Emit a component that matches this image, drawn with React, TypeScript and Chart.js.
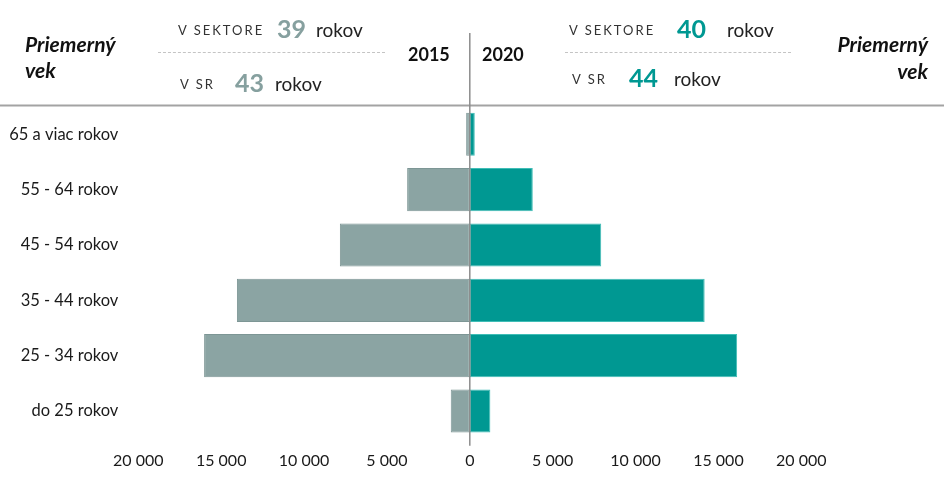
import React, { useEffect, useRef } from "react";
import { Chart, registerables } from "chart.js";

Chart.register(...registerables);

const categories = [
  "65 a viac rokov",
  "55 - 64 rokov",
  "45 - 54 rokov",
  "35 - 44 rokov",
  "25 - 34 rokov",
  "do 25 rokov",
];
const values2015 = [220, 3780, 7840, 14050, 16030, 1150];
const values2020 = [300, 3800, 7930, 14170, 16130, 1240];
const years = ["2015", "2020"];
const avgSector = [39, 40];
const avgSR = [43, 44];

const GREY = "#8ba4a3";
const TEAL = "#009892";
const FONT = "Lato, 'Open Sans', sans-serif";

const fmt = (v: number) => {
  const s = Math.abs(Math.round(v)).toString();
  return s.replace(/\B(?=(\d{3})+(?!\d))/g, " ");
};

const linesPlugin = {
  id: "decor",
  afterDatasetsDraw(chart: any) {
    const { ctx, scales } = chart;
    const x0 = scales.x.getPixelForValue(0);
    ctx.save();
    ctx.strokeStyle = "#a3a3a3";
    ctx.lineWidth = 2;
    ctx.beginPath();
    ctx.moveTo(0, 105.5);
    ctx.lineTo(chart.width, 105.5);
    ctx.stroke();
    ctx.strokeStyle = "#8c8c8c";
    ctx.lineWidth = 1.5;
    ctx.beginPath();
    ctx.moveTo(x0, 33);
    ctx.lineTo(x0, chart.chartArea.bottom + 7);
    ctx.stroke();
    ctx.restore();
  },
};

const abs = (s: any) => ({ position: "absolute" as const, whiteSpace: "nowrap" as const, ...s });

export default function App() {
  const ref = useRef<HTMLCanvasElement | null>(null);

  useEffect(() => {
    document.body.style.margin = "0";
    if (!ref.current) return;
    const chart = new Chart(ref.current, {
      type: "bar",
      data: {
        labels: categories,
        datasets: [
          {
            label: years[0],
            data: values2015.map((v) => -v),
            backgroundColor: GREY,
            borderColor: "#7d9695",
            borderWidth: 1,
            borderSkipped: false,
            barPercentage: 0.78,
            categoryPercentage: 1,
          },
          {
            label: years[1],
            data: values2020,
            backgroundColor: TEAL,
            borderColor: "#3fbdb6",
            borderWidth: 1,
            borderSkipped: false,
            barPercentage: 0.78,
            categoryPercentage: 1,
          },
        ],
      },
      options: {
        indexAxis: "y",
        animation: false,
        responsive: false,
        maintainAspectRatio: false,
        layout: { padding: { top: 106.6, right: 142.7, left: 0, bottom: 0 } },
        plugins: { legend: { display: false }, tooltip: { enabled: false } },
        scales: {
          x: {
            stacked: true,
            min: -20000,
            max: 20000,
            border: { display: false },
            grid: { display: false, drawTicks: false },
            ticks: {
              stepSize: 5000,
              padding: 13,
              color: "#1a1a1a",
              font: { family: FONT, size: 16 },
              callback: (v: any) => fmt(Number(v)),
              maxRotation: 0,
            },
            afterFit: (s: any) => {
              s.height = 52.3;
            },
          },
          y: {
            stacked: true,
            border: { display: false },
            grid: { display: false, drawTicks: false },
            ticks: {
              padding: 20,
              color: "#1a1a1a",
              font: { family: FONT, size: 16.5 },
            },
            afterFit: (s: any) => {
              s.width = 138.3;
            },
          },
        },
      },
      plugins: [linesPlugin],
    });
    return () => chart.destroy();
  }, []);

  const small = { fontFamily: FONT, fontSize: 13, letterSpacing: 2, color: "#333", lineHeight: 1 };
  const rok = { fontFamily: FONT, fontSize: 19, color: "#222", lineHeight: 1 };
  const num = { fontFamily: FONT, fontSize: 25, fontWeight: 700, lineHeight: 1 };
  const title = { fontFamily: FONT, fontSize: 21, fontWeight: 700, fontStyle: "italic", color: "#111", lineHeight: 1 };
  const year = { fontFamily: FONT, fontSize: 18, fontWeight: 700, color: "#111", lineHeight: 1 };
  const mid = { transform: "translateY(-50%)" };

  return (
    <div style={{ position: "fixed", left: 0, top: 0, width: 944, height: 491, background: "#fff" }}>
      <canvas ref={ref} width={944} height={491} style={{ position: "absolute", left: 0, top: 0, width: 944, height: 491 }} />
      {/* left header */}
      <div style={abs({ ...title, ...mid, left: 25, top: 43 })}>Priemerný</div>
      <div style={abs({ ...title, ...mid, left: 25, top: 69 })}>vek</div>
      <div style={abs({ ...small, ...mid, left: 178, top: 30 })}>V SEKTORE</div>
      <div style={abs({ ...num, ...mid, left: 277, top: 28, color: "#86a09f" })}>{avgSector[0]}</div>
      <div style={abs({ ...rok, ...mid, left: 316, top: 29 })}>rokov</div>
      <div style={abs({ left: 158, top: 52, width: 227, borderTop: "1.5px dashed #c4c4c4" })} />
      <div style={abs({ ...small, ...mid, left: 180, top: 84 })}>V SR</div>
      <div style={abs({ ...num, ...mid, left: 235, top: 82, color: "#86a09f" })}>{avgSR[0]}</div>
      <div style={abs({ ...rok, ...mid, left: 275, top: 83 })}>rokov</div>
      <div style={abs({ ...year, ...mid, left: 408, top: 54 })}>{years[0]}</div>
      {/* right header */}
      <div style={abs({ ...year, ...mid, left: 482, top: 54 })}>{years[1]}</div>
      <div style={abs({ ...small, ...mid, left: 569, top: 30 })}>V SEKTORE</div>
      <div style={abs({ ...num, ...mid, left: 677, top: 28, color: TEAL })}>{avgSector[1]}</div>
      <div style={abs({ ...rok, ...mid, left: 727, top: 29 })}>rokov</div>
      <div style={abs({ left: 565, top: 52, width: 226, borderTop: "1.5px dashed #c4c4c4" })} />
      <div style={abs({ ...small, ...mid, left: 572, top: 79 })}>V SR</div>
      <div style={abs({ ...num, ...mid, left: 629, top: 77, color: TEAL })}>{avgSR[1]}</div>
      <div style={abs({ ...rok, ...mid, left: 674, top: 78 })}>rokov</div>
      <div style={abs({ ...title, ...mid, right: 944 - 928, top: 43, textAlign: "right" })}>Priemerný</div>
      <div style={abs({ ...title, ...mid, right: 944 - 928, top: 70, textAlign: "right" })}>vek</div>
    </div>
  );
}
